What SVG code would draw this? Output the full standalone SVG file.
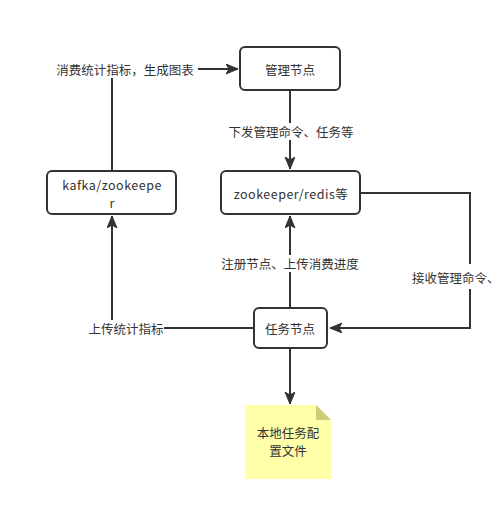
<svg xmlns="http://www.w3.org/2000/svg" width="501" height="510" viewBox="0 0 501 510">
<style>
.box{fill:#fff;stroke:#333;stroke-width:2}
.ln{fill:none;stroke:#333;stroke-width:2}
.t{font-family:"Noto Sans CJK SC","Noto Sans",sans-serif;font-size:12.5px;fill:#333;text-anchor:middle;dominant-baseline:central}
.lat{letter-spacing:0.5px}
.bg{fill:#fff}
</style>
<defs>
<marker id="arr" markerUnits="userSpaceOnUse" markerWidth="14" markerHeight="12" refX="12" refY="5" orient="auto" viewBox="0 0 14 12">
<path d="M0,0 L12,5 L0,10 L3,5 z" fill="#333" stroke="#333" stroke-width="1"/>
</marker>
</defs>
<rect width="501" height="510" fill="#fff"/>
<g id="connectors">
<path class="ln" d="M112,171 L112,69 L238,69" marker-end="url(#arr)"/>
<rect class="bg" x="52" y="61" width="146" height="17"/>
<text class="t" x="125" y="69">消费统计指标，生成图表</text>
<path class="ln" d="M290,90 L290,169" marker-end="url(#arr)"/>
<rect class="bg" x="224" y="123" width="134" height="17"/>
<text class="t" x="291" y="131">下发管理命令、任务等</text>
<path class="ln" d="M290,308 L290,216" marker-end="url(#arr)"/>
<rect class="bg" x="219" y="255" width="143" height="17"/>
<text class="t" x="290" y="263">注册节点、上传消费进度</text>
<path class="ln" d="M360,193 L470,193 L470,328 L330,328" marker-end="url(#arr)"/>
<rect class="bg" x="412" y="264" width="89" height="25"/>
<text class="t" x="412" y="277" style="text-anchor:start">接收管理命令、</text>
<path class="ln" d="M254,328 L112,328 L112,216" marker-end="url(#arr)"/>
<rect class="bg" x="87" y="320" width="77" height="17"/>
<text class="t" x="126" y="328">上传统计指标</text>
<path class="ln" d="M290,348 L290,404" marker-end="url(#arr)"/>
</g>
<g id="node-manage">
<rect class="box" x="240" y="47" width="100" height="43" rx="5"/>
<text class="t" x="290" y="69">管理节点</text>
</g>
<g id="node-kafka">
<rect class="box" x="47" y="171" width="129" height="43" rx="5"/>
<text class="t lat" x="112" y="184">kafka/zookeepe</text>
<text class="t" x="112" y="202">r</text>
</g>
<g id="node-zk">
<rect class="box" x="221" y="171" width="139" height="43" rx="5"/>
<text class="t lat" x="291" y="193">zookeeper/redis等</text>
</g>
<g id="node-task">
<rect class="box" x="254" y="308" width="73" height="40" rx="5"/>
<text class="t" x="290" y="328">任务节点</text>
</g>
<g id="node-note">
<path d="M245,405 L316,405 L331,420 L331,479 L245,479 z" fill="#ffffaa"/>
<path d="M316,405 L331,420 L316,420 z" fill="#cdcd77"/>
<text class="t" x="288" y="432">本地任务配</text>
<text class="t" x="288" y="450">置文件</text>
</g>
</svg>
